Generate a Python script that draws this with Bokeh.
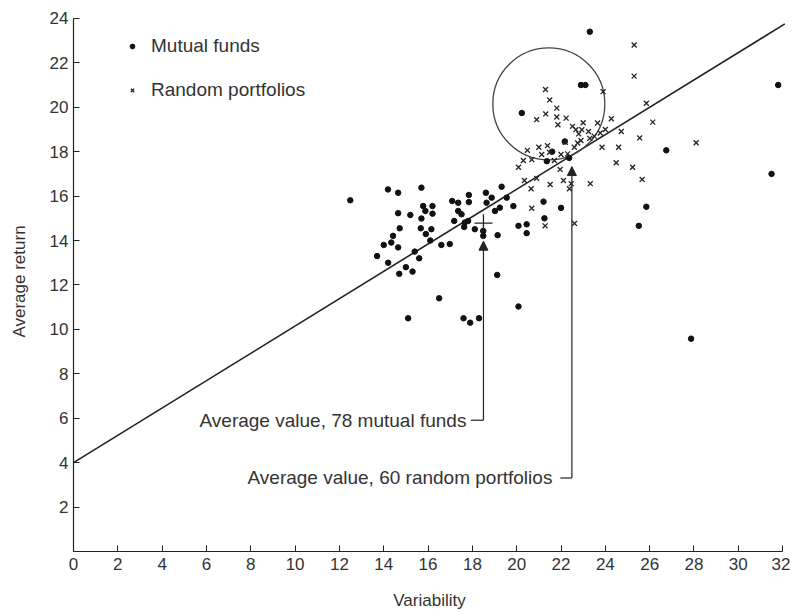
from bokeh.plotting import figure
from bokeh.models import Range1d, FixedTicker, Legend, LegendItem, Arrow, NormalHead
from bokeh.core.properties import value
from bokeh.embed import file_html
from bokeh.resources import INLINE

# ---- axis ticks ----
x_ticks = list(range(0, 33, 2))
y_ticks = list(range(2, 25, 2))

# ---- Mutual funds (78) ----
mf_x = [12.49, 14.19, 14.65, 15.70, 14.65, 15.20, 15.78, 15.70, 15.88, 16.20,
        16.20, 14.72, 15.67, 16.15, 15.90, 14.42, 14.34, 14.65, 17.09, 17.36,
        17.84, 17.84, 18.61, 18.87, 19.32, 19.55, 18.64, 19.02, 19.24, 19.85,
        17.36, 17.51, 17.18, 17.66, 17.81, 17.63, 18.11, 18.49, 18.49, 19.14,
        20.08, 20.45, 20.45, 20.23, 16.98, 21.21, 22.00, 21.25, 19.12, 20.08,
        21.36, 22.37, 26.75, 25.85, 25.51, 22.17, 27.87, 23.30, 22.90, 23.10,
        31.80, 31.50, 13.70, 14.00, 14.20, 14.70, 15.00, 15.30, 15.40, 15.60,
        15.10, 16.50, 17.60, 17.90, 18.30, 16.10, 16.60, 21.60]
mf_y = [15.81, 16.30, 16.15, 16.38, 15.23, 15.15, 15.55, 14.99, 15.33, 15.55,
        15.21, 14.55, 14.55, 14.51, 14.29, 14.21, 13.91, 13.69, 15.78, 15.70,
        16.05, 15.73, 16.15, 15.93, 16.42, 15.93, 15.70, 15.33, 15.48, 15.55,
        15.33, 15.18, 14.88, 14.81, 14.88, 14.61, 14.51, 14.43, 14.21, 14.24,
        14.66, 14.73, 14.33, 19.74, 13.84, 15.75, 15.47, 15.00, 12.45, 11.03,
        17.57, 17.72, 18.06, 15.52, 14.66, 18.46, 9.58, 23.40, 21.00, 21.00,
        21.00, 17.00, 13.30, 13.80, 13.00, 12.50, 12.80, 12.60, 13.50, 13.20,
        10.50, 11.40, 10.50, 10.30, 10.50, 14.00, 13.80, 18.00]

# ---- Random portfolios (60) ----
rp_x = [21.49, 21.81, 21.31, 20.90, 21.81, 22.23, 21.86, 22.52, 22.67, 22.94,
        23.24, 23.65, 23.77, 24.27, 24.72, 25.85, 26.14, 25.55, 24.60, 23.85,
        24.49, 25.23, 25.66, 23.32, 22.46, 22.38, 22.11, 21.51, 20.65, 20.35,
        20.08, 20.68, 20.48, 21.13, 21.39, 21.48, 21.96, 22.00, 22.19, 22.75,
        20.68, 21.28, 22.61, 25.30, 25.30, 21.30, 23.90, 28.10, 23.30, 22.90,
        23.50, 21.00, 20.30, 22.30, 24.00, 21.70, 23.00, 22.60, 20.90, 22.80]
rp_y = [20.33, 19.96, 19.70, 19.44, 19.56, 19.51, 19.21, 19.14, 18.99, 18.99,
        18.91, 19.29, 18.84, 19.48, 18.91, 20.18, 19.33, 18.62, 18.20, 18.20,
        17.50, 17.30, 16.75, 16.56, 16.56, 16.33, 16.70, 16.52, 16.33, 16.70,
        17.30, 17.64, 18.06, 17.87, 18.27, 17.97, 17.20, 17.87, 18.42, 18.39,
        15.45, 14.66, 14.77, 22.80, 21.40, 20.80, 20.70, 18.40, 18.60, 18.50,
        18.70, 18.20, 17.60, 17.90, 19.00, 17.60, 19.30, 18.20, 16.80, 18.80]

# ---- fitted line, circle, averages ----
line_x = [0.0, 32.1]
line_y = [4.0, 23.75]
circle_x = [21.45]
circle_y = [20.15]
mf_avg_x = [18.5]
mf_avg_y = [14.78]
rp_avg_x = [22.49]
rp_avg_y = [17.8]

# ---- annotation anchors ----
mf_label = "Average value, 78 mutual funds"
rp_label = "Average value, 60 random portfolios"
mf_label_x, mf_label_y = 17.73, 5.91
rp_label_x, rp_label_y = 21.61, 3.31
mf_arrow_tip = 13.97
rp_arrow_tip = 17.33

INK = "#222222"
TXT = "#333333"
FONT = "Liberation Sans"

p = figure(width=790, height=612, output_backend="svg", toolbar_location=None,
           x_range=Range1d(0, 32.13), y_range=Range1d(0, 24.31),
           min_border_left=73, min_border_right=5, min_border_top=11,
           min_border_bottom=58)
p.outline_line_color = None
p.grid.visible = False
p.background_fill_color = "white"

p.xaxis.ticker = FixedTicker(ticks=x_ticks)
p.yaxis.ticker = FixedTicker(ticks=y_ticks)
p.xaxis.bounds = (0, 32)
p.yaxis.bounds = (0, 24)
for ax in (p.xaxis, p.yaxis):
    ax.major_tick_in = 6
    ax.major_tick_out = 0
    ax.minor_tick_line_color = None
    ax.axis_line_color = INK
    ax.major_tick_line_color = INK
    ax.axis_line_width = 1.2
    ax.major_label_text_font = FONT
    ax.major_label_text_font_size = "17px"
    ax.major_label_text_color = TXT
    ax.axis_label_text_font = FONT
    ax.axis_label_text_font_size = "17px"
    ax.axis_label_text_font_style = "normal"
    ax.axis_label_text_color = TXT
p.xaxis.axis_label = "Variability"
p.yaxis.axis_label = "Average return"
p.xaxis.major_label_standoff = 6
p.xaxis.axis_label_standoff = 18
p.yaxis.major_label_standoff = 5
p.yaxis.axis_label_standoff = 18

# regression line
p.line(line_x, line_y, line_color=INK, line_width=1.6)

# circle
p.scatter(circle_x, circle_y, marker="circle", size=112, fill_color=None,
          line_color="#444444", line_width=1.3)

# points
mf_r = p.scatter(mf_x, mf_y, marker="circle", size=5.5, fill_color="#111111",
                 line_color="#111111")
rp_r = p.scatter(rp_x, rp_y, marker="x", size=7, line_color=INK, line_width=1.3)

# average of mutual funds
p.scatter(mf_avg_x, mf_avg_y, marker="cross", size=18, line_color=INK, line_width=1.3)

# annotation texts
p.text(x=[mf_label_x], y=[mf_label_y], text=[mf_label], text_align="right",
       text_baseline="middle", text_font=value(FONT), text_font_size="19px",
       text_color=TXT)
p.text(x=[rp_label_x], y=[rp_label_y], text=[rp_label], text_align="right",
       text_baseline="middle", text_font=value(FONT), text_font_size="19px",
       text_color=TXT)

# leaders
p.line([mf_label_x + 0.2, mf_avg_x[0]], [mf_label_y, mf_label_y], line_color=INK, line_width=1.2)
p.line([rp_label_x + 0.36, rp_avg_x[0]], [rp_label_y, rp_label_y], line_color=INK, line_width=1.2)
p.add_layout(Arrow(end=NormalHead(size=9, fill_color=INK, line_color=INK),
                   x_start=mf_avg_x[0], y_start=mf_label_y,
                   x_end=mf_avg_x[0], y_end=mf_arrow_tip,
                   line_color=INK, line_width=1.2))
p.add_layout(Arrow(end=NormalHead(size=9, fill_color=INK, line_color=INK),
                   x_start=rp_avg_x[0], y_start=rp_label_y,
                   x_end=rp_avg_x[0], y_end=rp_arrow_tip,
                   line_color=INK, line_width=1.2))

legend = Legend(items=[LegendItem(label="Mutual funds", renderers=[mf_r]),
                       LegendItem(label="Random portfolios", renderers=[rp_r])],
                location=(53, 450), border_line_color=None,
                background_fill_alpha=0, label_text_font=FONT,
                label_text_font_size="19px", label_text_color=TXT,
                glyph_width=12, glyph_height=12, label_height=20,
                spacing=22, padding=0, margin=0, label_standoff=13)
p.add_layout(legend)

open("out.html", "w").write(file_html(p, INLINE))
